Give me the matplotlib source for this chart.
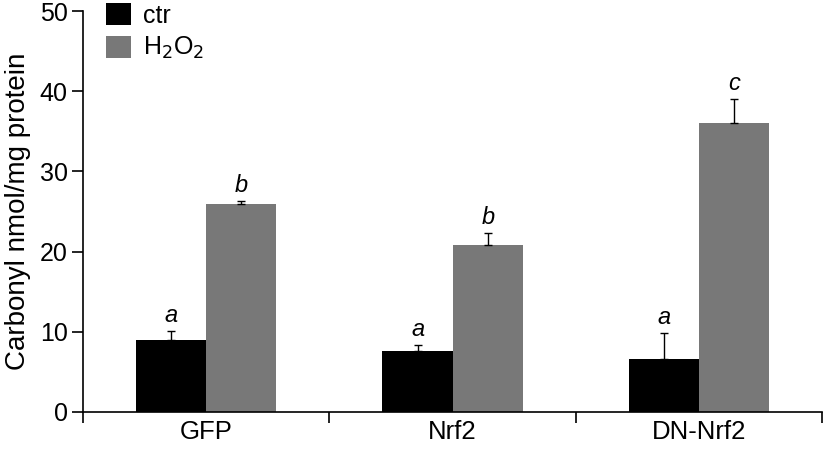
import matplotlib.pyplot as plt
import numpy as np

plt.rcParams['font.family'] = ['Liberation Sans', 'DejaVu Sans']

# data
groups = ['GFP', 'Nrf2', 'DN-Nrf2']
ctr = [9.0, 7.6, 6.6]
ctr_err = [1.1, 0.7, 3.2]
h2o2 = [26.0, 20.8, 36.1]
h2o2_err = [0.3, 1.5, 2.9]
ctr_letters = ['a', 'a', 'a']
h2o2_letters = ['b', 'b', 'c']

x = np.arange(len(groups))
w = 0.285

fig = plt.figure(figsize=(8.26, 4.51), dpi=100)
ax = fig.add_axes([0.1005, 0.0865, 0.895, 0.889])

ebar = dict(ecolor='black', elinewidth=1, capsize=3, capthick=1)
ax.bar(x - w/2, ctr, w, color='black', label='ctr',
       yerr=[np.zeros(3), ctr_err], error_kw=ebar)
ax.bar(x + w/2, h2o2, w, color='#787878', label=r'H$_2$O$_2$',
       yerr=[np.zeros(3), h2o2_err], error_kw=ebar)

# significance letters above the error bars
for i in range(len(groups)):
    ax.text(x[i] - w/2, ctr[i] + ctr_err[i] + 0.5, ctr_letters[i],
            ha='center', va='bottom', fontsize=17, style='italic')
    ax.text(x[i] + w/2, h2o2[i] + h2o2_err[i] + 0.5, h2o2_letters[i],
            ha='center', va='bottom', fontsize=17, style='italic')

ax.set_xlim(-0.5, 2.5)
ax.set_ylim(0, 50)
ax.set_yticks([0, 10, 20, 30, 40, 50])
ax.set_xticks(x)
ax.set_xticklabels(groups, fontsize=18.5)
ax.tick_params(axis='x', length=0, pad=6)
ax.set_xticks([-0.5, 0.5, 1.5, 2.5], minor=True)
ax.tick_params(axis='x', which='minor', length=8, width=1.2, direction='out')
ax.tick_params(axis='y', labelsize=18, length=8, width=1.2, direction='out', pad=3)
ax.set_ylabel('Carbonyl nmol/mg protein', fontsize=20, labelpad=6)

ax.spines['top'].set_visible(False)
ax.spines['right'].set_visible(False)
ax.spines['left'].set_linewidth(1.2)
ax.spines['bottom'].set_linewidth(1.2)

ax.legend(loc='upper left', bbox_to_anchor=(0.018, 1.045), frameon=False,
          fontsize=18, handlelength=1.0, handleheight=1.0, handletextpad=0.45,
          labelspacing=0.3, borderaxespad=0)

fig.savefig('out.png', dpi=100)
